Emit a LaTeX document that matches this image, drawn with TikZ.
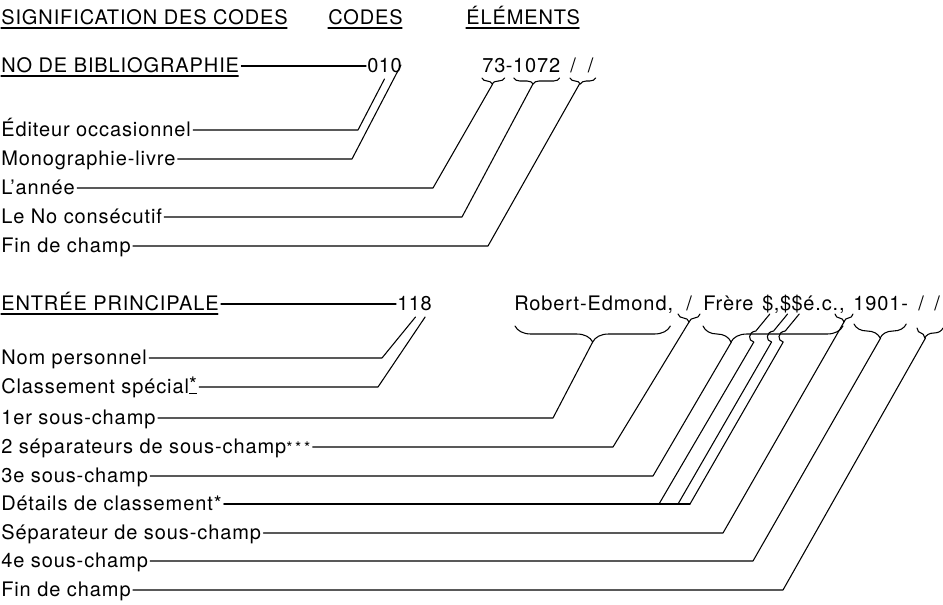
\documentclass[tikz,border=0pt]{standalone}
\usepackage{fontspec}
\setmainfont{TeX Gyre Heros}[LetterSpace=4.5]
\usetikzlibrary{calc,decorations.pathreplacing}
\begin{document}
\begin{tikzpicture}[x=0.75pt,y=-0.75pt,
  txt/.style={inner sep=0pt, anchor=base west, font=\fontsize{15}{18}\selectfont},
  ln/.style={line width=0.8pt, line join=round, line cap=round},
  brc/.style 2 args={ln, decorate, decoration={brace, mirror, amplitude=#1, aspect=#2}},
]
\useasboundingbox (0,0) rectangle (943,604);
\fill[white] (0,0) rectangle (943,604);

% ---------- headers
\node[txt] (h1) at (1,24) {SIGNIFICATION DES CODES};
\node[txt] (h2) at (328,24) {CODES};
\node[txt] (h3) at (466,24) {ÉLÉMENTS};
\foreach \n in {h1,h2,h3}{\draw[ln] ($(\n.base west)+(0,4)$) -- ($(\n.base east)+(-1,4)$);}

% ---------- NO DE BIBLIOGRAPHIE
\node[txt] (nb) at (1,72) {NO DE BIBLIOGRAPHIE};
\draw[ln] ($(nb.base west)+(0,4)$) -- ($(nb.base east)+(-1,4)$);
\node[txt] (c0a) at (367,72) {0};
\node[txt] (c1) at (c0a.base east) {1};
\node[txt] (c0b) at (c1.base east) {0};
\draw[ln] ($(nb.base east)+(2,-6)$) -- ($(c0a.base west)+(-1,-6)$);

\node[txt] (e73) at (482,72) {73};
\node[txt] (eh) at (e73.base east) {-};
\node[txt] (e1072) at (eh.base east) {1072};
\node[txt] (esl) at (570,72) {/\hspace{9pt}/};

\draw[brc={4.5pt}{0.45}] ($(e73.base west)+(0,6)$) -- ($(e73.base east)+(-1,6)$);
\coordinate (t73) at ($(e73.base west)!0.45!(e73.base east)+(0,12)$);
\draw[brc={4.5pt}{0.42}] ($(e1072.base west)+(1,6)$) -- ($(e1072.base east)+(-1,6)$);
\coordinate (t1072) at ($(e1072.base west)!0.42!(e1072.base east)+(0,12)$);
\draw[brc={4.5pt}{0.4}] ($(esl.base west)+(0,6)$) -- ($(esl.base east)+(2,6)$);
\coordinate (tsl) at ($(esl.base west)!0.4!(esl.base east)+(0,12)$);

% ---------- upper rows
\node[txt] (r1) at (1,136) {Éditeur occasionnel};
\node[txt] (r2) at (1,165) {Monographie-livre};
\node[txt] (r3) at (1,194) {L’année};
\node[txt] (r4) at (1,223) {Le No consécutif};
\node[txt] (r5) at (1,252) {Fin de champ};
\coordinate (k1) at (358,130);
\coordinate (k2) at (352,159);
\coordinate (k3) at (433,188);
\coordinate (k4) at (462,217);
\coordinate (k5) at (488,246);
\draw[ln] ($(r1.base east)+(2,-6)$) -- (k1) -- ($(c1.base)+(0,7)$);
\draw[ln] ($(r2.base east)+(2,-6)$) -- (k2) -- ($(c0b.base east)+(-1,-7)$);
\draw[ln] ($(r3.base east)+(2,-6)$) -- (k3) -- (t73);
\draw[ln] ($(r4.base east)+(2,-6)$) -- (k4) -- (t1072);
\draw[ln] ($(r5.base east)+(2,-6)$) -- (k5) -- (tsl);

% ---------- ENTREE PRINCIPALE
\node[txt] (ep) at (1,310) {ENTRÉE PRINCIPALE};
\draw[ln] ($(ep.base west)+(0,4)$) -- ($(ep.base east)+(-1,4)$);
\node[txt] (d1) at (397,310) {1};
\node[txt] (d2) at (d1.base east) {1};
\node[txt] (d8) at (d2.base east) {8};
\draw[ln] ($(ep.base east)+(2,-6)$) -- ($(d1.base west)+(-1,-6)$);

\node[txt] (rob) at (514,310) {Robert-Edmond,};
\node[txt] (s1) at (686,310) {/};
\node[txt] (fr) at (703,310) {Frère};
\node[txt] (da) at (762,310) {\$};
\node[txt] (dc) at (da.base east) {,};
\node[txt] (db) at (dc.base east) {\$};
\node[txt] (dd) at (db.base east) {\$};
\node[txt] (de) at (dd.base east) {é.c.,};
\node[txt] (yr) at (853,310) {1901-};
\node[txt] (s2) at (918,310) {/};
\node[txt] (s3) at (934,310) {/};

% braces (lower)
\draw[brc={12pt}{0.5}] ($(rob.base west)+(1,16)$) -- ($(rob.base east)+(-3,16)$);
\coordinate (tb1) at ($(rob.base west)!0.5!(rob.base east)+(-1,32)$);
\draw[brc={6pt}{0.5}] ($(s1.base)+(-11,4)$) -- ($(s1.base)+(11,4)$);
\coordinate (tb2) at ($(s1.base)+(0,12)$);
\draw[brc={12pt}{0.2}] ($(fr.base west)+(0,16)$) -- ($(de.base east)+(-2,16)$);
\coordinate (tb3) at ($(fr.base west)!0.2!(de.base east)+(0,32)$);
\coordinate (mb4) at ($(de.base east)!0.5!(yr.base west)+(-5,0)$);
\draw[brc={6pt}{0.5}] ($(mb4)+(-9,4)$) -- ($(mb4)+(9,4)$);
\coordinate (tb4) at ($(mb4)+(0,12)$);
\draw[brc={10.5pt}{0.5}] ($(yr.base west)+(1,14)$) -- ($(yr.base east)+(-2,14)$);
\coordinate (tb5) at ($(yr.base west)!0.5!(yr.base east)+(0,28)$);
\draw[brc={7.5pt}{0.3}] ($(s2.base west)+(-1,18)$) -- (943,328);
\coordinate (tb6) at ($(s2.base west)!0.3!(943,310)+(0,28)$);

% ---------- lower rows
\node[txt] (n1) at (1,364) {Nom personnel};
\node[txt] (n2) at (1,393) {Classement spécial\raisebox{1pt}{\underline{\smash{*}}}};
\node[txt] (n3) at (1,424) {1er sous-champ};
\node[txt] (n4) at (1,453) {2 séparateurs de sous-champ{\fontsize{12}{12}\selectfont*\,*\,*}};
\node[txt] (n5) at (1,482) {3e sous-champ};
\node[txt] (n6) at (1,510) {Détails de classement*};
\node[txt] (n7) at (1,539) {Séparateur de sous-champ};
\node[txt] (n8) at (1,567) {4e sous-champ};
\node[txt] (n9) at (1,596) {Fin de champ};

\coordinate (q1) at (382,358);
\coordinate (q2) at (378,387);
\coordinate (q3) at (553,418);
\coordinate (q4) at (613,447);
\coordinate (q5) at (653,476);
\coordinate (q6a) at (659,504);
\coordinate (q6b) at (678,504);
\coordinate (q6c) at (690,504);
\coordinate (q7) at (723,533);
\coordinate (q8) at (753,561);
\coordinate (q9) at (783,590);

\draw[ln] ($(n1.base east)+(2,-6)$) -- (q1) -- ($(d2.base)+(1,7)$);
\draw[ln] ($(n2.base east)+(2,-6)$) -- (q2) -- ($(d8.base)+(-1,7)$);
\draw[ln] ($(n3.base east)+(2,-6)$) -- (q3) -- (tb1);
\draw[ln] ($(n4.base east)+(2,-6)$) -- (q4) -- (tb2);
\draw[ln] ($(n5.base east)+(2,-6)$) -- (q5) -- (tb3);
\draw[ln] ($(n6.base east)+(2,-6)$) -- (q6c);
\foreach \X/\Q in {da/q6a,db/q6b,dd/q6c}{
  \draw[ln] ($(\X.base)+(2,4)$) -- ($(\X.base)+(-12,21)$)
    .. controls ($(\X.base)+(-20,22)$) and ($(\X.base)+(-20,31)$) .. ($(\X.base)+(-14,32)$)
    -- (\Q);
}
\draw[ln] ($(n7.base east)+(2,-6)$) -- (q7) -- (tb4);
\draw[ln] ($(n8.base east)+(2,-6)$) -- (q8) -- (tb5);
\draw[ln] ($(n9.base east)+(2,-6)$) -- (q9) -- (tb6);
\end{tikzpicture}
\end{document}
